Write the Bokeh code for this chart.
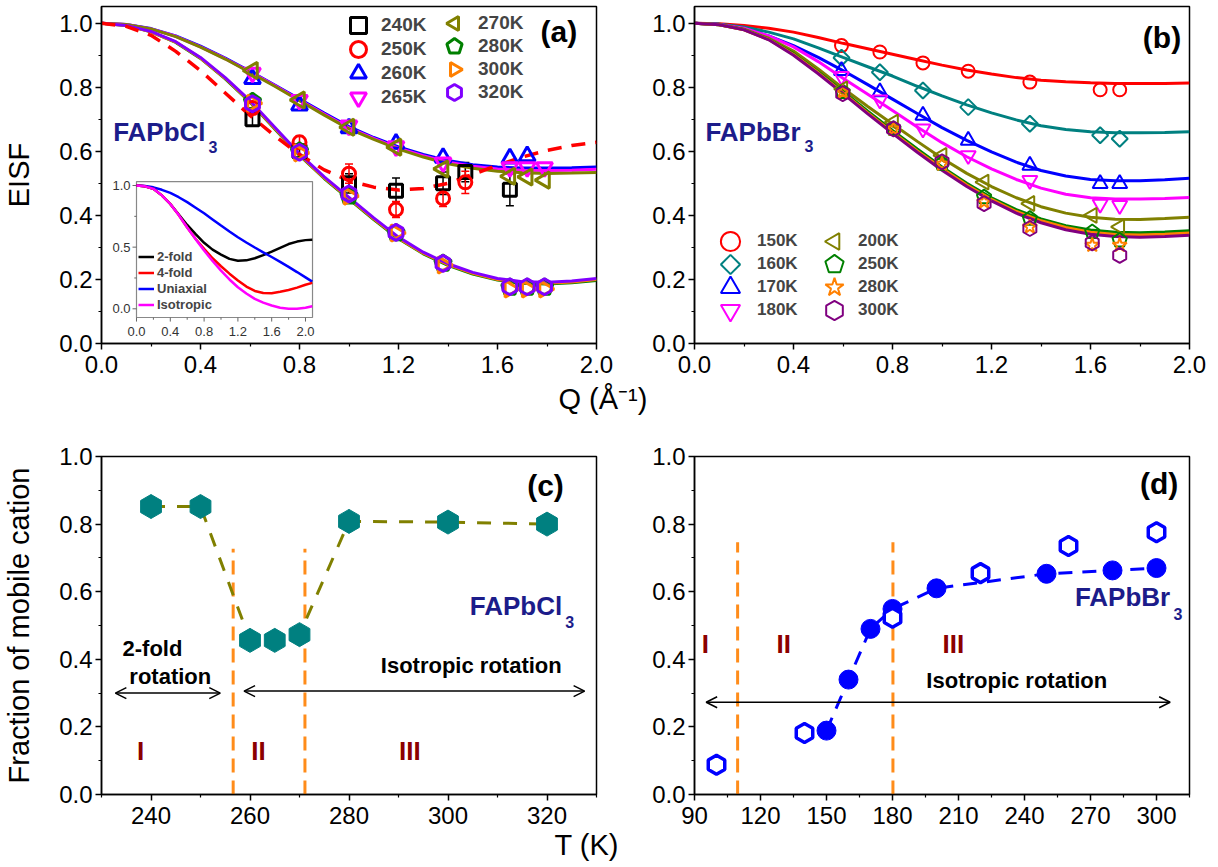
import math
from bokeh.plotting import figure
from bokeh.models import (Range1d, Label, Legend, LegendItem, Arrow, OpenHead, TeeHead, Title,
                          FixedTicker, PrintfTickFormatter, GridBox, Whisker, ColumnDataSource)
from bokeh.core.properties import value
from bokeh.embed import file_html
from bokeh.resources import INLINE

FONT = "Liberation Sans"
NAVY = "#1c1c8a"
MAROON = "#8b0000"
VORANGE = "#ff8c1a"

# ---------------- data: panel (a) FAPbCl3 ----------------
Q_CURVE = [0.0, 0.1, 0.2, 0.3, 0.4, 0.5, 0.6, 0.7, 0.8, 0.9, 1.0,
           1.1, 1.2, 1.3, 1.4, 1.5, 1.6, 1.7, 1.8, 1.9, 2.0]
A_Q = [0.61, 0.80, 1.00, 1.19, 1.38, 1.65, 1.72, 1.79]
A240_Q = [0.61, 0.80, 1.00, 1.19, 1.38, 1.47, 1.65]
A240 = [0.70, 0.60, 0.50, 0.477, 0.50, 0.535, 0.48]
A240_ERR = [0.02, 0.02, 0.03, 0.04, 0.035, 0.03, 0.05]
A250_Q = [0.61, 0.80, 1.00, 1.19, 1.38, 1.47]
A250 = [0.735, 0.628, 0.53, 0.418, 0.453, 0.503]
A250_ERR = [0.02, 0.02, 0.03, 0.025, 0.025, 0.035]
A260_Q = [0.61, 0.80, 1.00, 1.19, 1.38, 1.65, 1.72]
A260 = [0.826, 0.743, 0.672, 0.624, 0.58, 0.578, 0.585]
A265 = [0.845, 0.76, 0.68, 0.615, 0.565, 0.55, 0.55, 0.55]
A270 = [0.852, 0.76, 0.675, 0.613, 0.545, 0.522, 0.52, 0.51]
A280 = [0.755, 0.60, 0.46, 0.345, 0.25, 0.175, 0.175, 0.175]
A300 = [0.75, 0.595, 0.46, 0.345, 0.245, 0.17, 0.17, 0.17]
A320 = [0.748, 0.597, 0.467, 0.347, 0.25, 0.177, 0.177, 0.177]

FIT_A_260 = [1.0, 0.996, 0.983, 0.96, 0.928, 0.891, 0.85, 0.807, 0.763, 0.719, 0.677,
             0.643, 0.614, 0.59, 0.571, 0.558, 0.551, 0.548, 0.548, 0.549, 0.551]
FIT_A_265 = [1.0, 0.996, 0.982, 0.959, 0.926, 0.889, 0.848, 0.805, 0.76, 0.716, 0.673,
             0.64, 0.61, 0.586, 0.566, 0.553, 0.545, 0.541, 0.54, 0.541, 0.544]
FIT_A_270 = [1.0, 0.996, 0.982, 0.958, 0.925, 0.888, 0.846, 0.803, 0.758, 0.713, 0.67,
             0.637, 0.607, 0.582, 0.561, 0.547, 0.538, 0.533, 0.531, 0.532, 0.534]
FIT_A_280 = [1.0, 0.993, 0.973, 0.94, 0.89, 0.826, 0.753, 0.67, 0.587, 0.515, 0.451,
             0.387, 0.327, 0.28, 0.244, 0.217, 0.198, 0.188, 0.186, 0.19, 0.197]
FIT_A_300 = [1.0, 0.993, 0.973, 0.941, 0.891, 0.828, 0.755, 0.672, 0.589, 0.517, 0.453,
             0.389, 0.329, 0.282, 0.246, 0.219, 0.2, 0.19, 0.188, 0.192, 0.2]
FIT_A_320 = [1.0, 0.993, 0.974, 0.942, 0.893, 0.83, 0.758, 0.675, 0.592, 0.52, 0.456,
             0.392, 0.332, 0.285, 0.249, 0.222, 0.203, 0.193, 0.191, 0.195, 0.203]
FIT_A_LOW = [1.0, 0.99, 0.962, 0.912, 0.852, 0.782, 0.712, 0.648, 0.59, 0.542, 0.508,
             0.488, 0.479, 0.484, 0.50, 0.528, 0.556, 0.582, 0.603, 0.618, 0.628]

# inset models
IN_Q = [0.0, 0.1, 0.2, 0.3, 0.4, 0.5, 0.6, 0.7, 0.8, 0.9, 1.0,
        1.1, 1.2, 1.3, 1.4, 1.5, 1.6, 1.7, 1.8, 1.9, 2.0, 2.08]
IN_2FOLD = [1.0, 0.993, 0.973, 0.92, 0.85, 0.765, 0.68, 0.605, 0.535, 0.48, 0.44,
            0.405, 0.39, 0.393, 0.41, 0.435, 0.463, 0.495, 0.525, 0.545, 0.557, 0.56]
IN_4FOLD = [1.0, 0.993, 0.973, 0.92, 0.85, 0.76, 0.66, 0.566, 0.486, 0.41, 0.345,
            0.285, 0.23, 0.18, 0.145, 0.128, 0.127, 0.138, 0.152, 0.172, 0.195, 0.21]
IN_UNI = [1.0, 0.996, 0.985, 0.965, 0.94, 0.905, 0.865, 0.82, 0.775, 0.725, 0.675,
          0.627, 0.58, 0.538, 0.497, 0.458, 0.42, 0.381, 0.34, 0.298, 0.255, 0.22]
IN_ISO = [1.0, 0.993, 0.973, 0.92, 0.85, 0.76, 0.66, 0.565, 0.473, 0.388, 0.31,
          0.238, 0.175, 0.124, 0.081, 0.05, 0.027, 0.008, 0.0, 0.0, 0.008, 0.02]

# ---------------- data: panel (b) FAPbBr3 ----------------
B_Q1 = [0.594, 0.749, 0.923, 1.106, 1.355, 1.639, 1.718]
B_Q2 = [0.599, 0.804, 1.0, 1.17, 1.355, 1.607, 1.718]
B150 = [0.930, 0.910, 0.876, 0.850, 0.816, 0.792, 0.792]
B160 = [0.892, 0.847, 0.790, 0.738, 0.686, 0.650, 0.639]
B170 = [0.852, 0.785, 0.712, 0.634, 0.556, 0.499, 0.499]
B180 = [0.834, 0.761, 0.670, 0.587, 0.509, 0.435, 0.431]
B200 = [0.795, 0.691, 0.587, 0.504, 0.437, 0.400, 0.364]
B250 = [0.785, 0.670, 0.561, 0.457, 0.390, 0.348, 0.322]
B280 = [0.785, 0.670, 0.560, 0.442, 0.364, 0.307, 0.307]
B300 = [0.780, 0.670, 0.567, 0.437, 0.359, 0.314, 0.275]

FIT_B_150 = [1.0, 0.998, 0.993, 0.984, 0.972, 0.955, 0.937, 0.92, 0.903, 0.886, 0.869,
             0.854, 0.841, 0.83, 0.822, 0.817, 0.814, 0.812, 0.812, 0.812, 0.813]
FIT_B_160 = [1.0, 0.997, 0.988, 0.972, 0.951, 0.923, 0.893, 0.864, 0.835, 0.803, 0.773,
             0.745, 0.72, 0.698, 0.68, 0.668, 0.661, 0.658, 0.658, 0.659, 0.661]
FIT_B_170 = [1.0, 0.996, 0.983, 0.96, 0.93, 0.893, 0.852, 0.808, 0.763, 0.718, 0.674,
             0.634, 0.598, 0.566, 0.54, 0.523, 0.512, 0.508, 0.508, 0.511, 0.516]
FIT_B_180 = [1.0, 0.996, 0.984, 0.96, 0.926, 0.88, 0.828, 0.778, 0.727, 0.676, 0.627,
             0.583, 0.545, 0.512, 0.485, 0.466, 0.455, 0.451, 0.451, 0.453, 0.456]
FIT_B_200 = [1.0, 0.995, 0.981, 0.953, 0.913, 0.857, 0.797, 0.74, 0.685, 0.631, 0.578,
             0.531, 0.49, 0.455, 0.427, 0.407, 0.394, 0.388, 0.387, 0.39, 0.394]
FIT_B_250 = [1.0, 0.995, 0.98, 0.95, 0.905, 0.848, 0.787, 0.725, 0.665, 0.607, 0.551,
             0.5, 0.455, 0.418, 0.389, 0.368, 0.354, 0.347, 0.346, 0.348, 0.352]
FIT_B_280 = [1.0, 0.995, 0.979, 0.949, 0.902, 0.845, 0.783, 0.72, 0.66, 0.601, 0.546,
             0.495, 0.45, 0.412, 0.383, 0.362, 0.347, 0.34, 0.339, 0.341, 0.345]
FIT_B_300 = [1.0, 0.995, 0.979, 0.948, 0.9, 0.842, 0.78, 0.717, 0.656, 0.597, 0.541,
             0.49, 0.445, 0.407, 0.377, 0.355, 0.341, 0.334, 0.332, 0.334, 0.338]

# ---------------- data: panel (c) FAPbCl3 fraction ----------------
C_T = [240, 250, 260, 265, 270, 280, 300, 320]
C_F = [0.852, 0.852, 0.456, 0.456, 0.473, 0.808, 0.806, 0.800]
C_TRANS = [256.6, 271.1]
C_TRANS_TOP = 0.727

# ---------------- data: panel (d) FAPbBr3 fraction ----------------
D_T_FILLED = [150, 160, 170, 180, 200, 250, 280, 300]
D_F_FILLED = [0.189, 0.34, 0.49, 0.549, 0.61, 0.653, 0.663, 0.67]
D_T_OPEN = [100, 140, 180, 220, 260, 300]
D_F_OPEN = [0.088, 0.182, 0.523, 0.655, 0.735, 0.776]
D_TRANS = [109.6, 180.2]
D_TRANS_TOP = 0.746

# tick values
Q_TICKS = [0.0, 0.4, 0.8, 1.2, 1.6, 2.0]
Q_MINOR = [0.2, 0.6, 1.0, 1.4, 1.8]
Y_TICKS = [0.0, 0.2, 0.4, 0.6, 0.8, 1.0]
Y_MINOR = [0.1, 0.3, 0.5, 0.7, 0.9]
C_TICKS = [240, 260, 280, 300, 320]
C_MINOR = [230, 250, 270, 290, 310, 330]
D_TICKS = [90, 120, 150, 180, 210, 240, 270, 300]
D_MINOR = [105, 135, 165, 195, 225, 255, 285, 315]
IN_XTICKS = [0.0, 0.4, 0.8, 1.2, 1.6, 2.0]
IN_XMINOR = [0.2, 0.6, 1.0, 1.4, 1.8]
IN_YTICKS = [0.0, 0.5, 1.0]
IN_YMINOR = [0.25, 0.75]
IN_BOX = (0.0, 2.083, -0.0706, 1.032)   # inset frame: left, right, bottom, top

RED, BLUE, MAG, OLIVE, GREEN, ORANGE = "#ff0000", "#0000ff", "#ff00ff", "#808000", "#008000", "#ff8000"
VIOLET, PURPLE, TEAL = "#8000ff", "#800080", "#008080"


def make_fig(xr, yr, fh, ml, mr, mt, mb):
    p = figure(x_range=Range1d(*xr), y_range=Range1d(*yr), frame_width=495, frame_height=fh,
               min_border_left=ml, min_border_right=mr, min_border_top=mt, min_border_bottom=mb,
               output_backend="svg", toolbar_location=None, tools="")
    p.grid.visible = False
    p.outline_line_color = "black"
    p.outline_line_width = 1.5
    p.background_fill_color = "white"
    p.border_fill_color = "white"
    p.axis.axis_line_width = 1.5
    p.axis.axis_line_color = "black"
    p.axis.major_tick_line_width = 1.5
    p.axis.major_tick_out = 6
    p.axis.major_tick_in = 0
    p.axis.minor_tick_out = 3
    p.axis.minor_tick_in = 0
    p.axis.minor_tick_line_width = 1.2
    p.axis.major_label_text_font = FONT
    p.axis.major_label_text_font_size = "24px"
    p.axis.major_label_text_color = "black"
    p.yaxis.major_label_standoff = 3
    p.xaxis.major_label_standoff = 6
    p.axis.axis_label_text_font = FONT
    p.axis.axis_label_text_font_size = "29px"
    p.axis.axis_label_text_font_style = "normal"
    p.axis.axis_label_text_color = "black"
    return p


def bottom_title(p, s, offset, standoff):
    p.add_layout(Title(text=s, align="left", offset=offset, text_font=FONT,
                       text_font_size="29px", text_font_style="normal", text_color="black",
                       standoff=standoff), "below")


def txt(p, x, y, s, size, color="black", bold=False, align="left", baseline="middle"):
    p.add_layout(Label(x=x, y=y, text=s, text_font=FONT, text_font_size=f"{size}px",
                       text_color=color, text_font_style="bold" if bold else "normal",
                       text_align=align, text_baseline=baseline))


def sc(p, x, y, kind, color, size, lw, fill=None):
    return p.scatter(x=x, y=y, marker=kind, size=size, fill_color=fill,
                     line_color=color, line_width=lw)


def ng(p, x, y, n, r, ang, color, lw, fill=None):
    return p.ngon(x=x, y=y, radius=r, radius_units="screen", n=n, angle=ang,
                  fill_color=fill, line_color=color, line_width=lw)


def legend_rows(p, items, x, vys, g, standoff, fsize):
    for (lab, r), vy in zip(items, vys):
        p.add_layout(Legend(items=[LegendItem(label=lab, renderers=[r])], location=(x, vy),
                            glyph_width=g, glyph_height=g, label_height=g, spacing=0,
                            label_standoff=standoff, padding=0, margin=0,
                            border_line_alpha=0, background_fill_alpha=0,
                            label_text_font=FONT, label_text_font_style="bold",
                            label_text_font_size=f"{fsize}px"))


UP, LEFT, RIGHT = 0.0, math.pi / 2, -math.pi / 2   # ngon: angle 0 puts a vertex on top

# ============ panel (a) ============
pa = make_fig((0, 2.0), (0, 1.052), 337, 100, 53, 6, 81)
pa.xaxis.ticker = FixedTicker(ticks=Q_TICKS, minor_ticks=Q_MINOR)
pa.yaxis.ticker = FixedTicker(ticks=Y_TICKS, minor_ticks=Y_MINOR)
pa.xaxis.formatter = PrintfTickFormatter(format="%.1f")
pa.yaxis.formatter = PrintfTickFormatter(format="%.1f")
pa.yaxis.axis_label = "EISF"
pa.yaxis.axis_label_standoff = 21
bottom_title(pa, "Q (Å⁻¹)", 457, 10)

for fit, col in [(FIT_A_260, BLUE), (FIT_A_265, MAG), (FIT_A_270, OLIVE),
                 (FIT_A_280, GREEN), (FIT_A_300, ORANGE), (FIT_A_320, VIOLET)]:
    pa.line(Q_CURVE, fit, line_color=col, line_width=3)
pa.line(Q_CURVE, FIT_A_LOW, line_color=RED, line_width=3.5, line_dash="14 10")

for xs, ys, es, col in [(A240_Q, A240, A240_ERR, "black"), (A250_Q, A250, A250_ERR, RED)]:
    src = ColumnDataSource(dict(x=xs, lower=[v - e for v, e in zip(ys, es)],
                                upper=[v + e for v, e in zip(ys, es)]))
    pa.add_layout(Whisker(source=src, base="x", lower="lower", upper="upper", line_color=col,
                          line_width=1.5,
                          upper_head=TeeHead(size=8, line_color=col, line_width=1.5),
                          lower_head=TeeHead(size=8, line_color=col, line_width=1.5)))

ra240 = sc(pa, A240_Q, A240, "square", "black", 13, 3)
ra250 = sc(pa, A250_Q, A250, "circle", RED, 13, 3)
ra260 = sc(pa, A260_Q, A260, "triangle", BLUE, 16, 3)
ra265 = sc(pa, A_Q, A265, "inverted_triangle", MAG, 16, 3)
ra270 = ng(pa, A_Q, A270, 3, 9.5, LEFT, OLIVE, 3)
ra280 = ng(pa, A_Q, A280, 5, 8.5, UP, GREEN, 3)
ra300 = ng(pa, A_Q, A300, 3, 9.5, RIGHT, ORANGE, 3)
ra320 = ng(pa, A_Q, A320, 6, 8.0, UP, VIOLET, 3)

legend_rows(pa, [("240K", ra240), ("250K", ra250), ("260K", ra260), ("265K", ra265)],
            237, [298, 274, 250, 226], 40, 3, 19)
legend_rows(pa, [("270K", ra270), ("280K", ra280), ("300K", ra300), ("320K", ra320)],
            333, [300, 277, 254, 231], 40, 4, 19)

txt(pa, 1.848, 0.975, "(a)", 30, bold=True, align="center")
txt(pa, 0.047, 0.66, "FAPbCl", 26, color=NAVY, bold=True)
txt(pa, 0.432, 0.613, "3", 16, color=NAVY, bold=True)

# ---- inset (drawn in panel (a) on its own ranges) ----
pa.extra_x_ranges = {"ix": Range1d(-0.4142, 5.4438)}
pa.extra_y_ranges = {"iy": Range1d(-0.2814, 2.4518)}
IR = dict(x_range_name="ix", y_range_name="iy")
bx0, bx1, by0, by1 = IN_BOX
pa.quad(left=[bx0], right=[bx1], bottom=[by0], top=[by1], fill_color="white",
        line_color="#888888", line_width=1.2, **IR)
pa.segment(x0=IN_XTICKS, x1=IN_XTICKS, y0=[by0] * len(IN_XTICKS),
           y1=[by0 - 0.033] * len(IN_XTICKS), line_color="#666666", line_width=1, **IR)
pa.segment(x0=IN_XMINOR, x1=IN_XMINOR, y0=[by0] * len(IN_XMINOR),
           y1=[by0 - 0.018] * len(IN_XMINOR), line_color="#666666", line_width=1, **IR)
pa.segment(x0=[bx0] * len(IN_YTICKS), x1=[bx0 - 0.047] * len(IN_YTICKS), y0=IN_YTICKS,
           y1=IN_YTICKS, line_color="#666666", line_width=1, **IR)
pa.segment(x0=[bx0] * len(IN_YMINOR), x1=[bx0 - 0.026] * len(IN_YMINOR), y0=IN_YMINOR,
           y1=IN_YMINOR, line_color="#666666", line_width=1, **IR)
pa.text(x=IN_XTICKS, y=[by0 - 0.075] * len(IN_XTICKS), text=["%.1f" % t for t in IN_XTICKS],
        text_font=value(FONT), text_font_size="13px", text_color="#333333",
        text_align="center", text_baseline="top", **IR)
pa.text(x=[bx0 - 0.07] * len(IN_YTICKS), y=IN_YTICKS, text=["%.1f" % t for t in IN_YTICKS],
        text_font=value(FONT), text_font_size="13px", text_color="#333333",
        text_align="right", text_baseline="middle", **IR)
ri_b = pa.line(IN_Q, IN_2FOLD, line_color="black", line_width=2.5, **IR)
ri_u = pa.line(IN_Q, IN_UNI, line_color=BLUE, line_width=2.5, **IR)
ri_r = pa.line(IN_Q, IN_4FOLD, line_color=RED, line_width=2.5, **IR)
ri_m = pa.line(IN_Q, IN_ISO, line_color=MAG, line_width=2.5, **IR)
pa.add_layout(Legend(items=[LegendItem(label="2-fold", renderers=[ri_b]),
                            LegendItem(label="4-fold", renderers=[ri_r]),
                            LegendItem(label="Uniaxial", renderers=[ri_u]),
                            LegendItem(label="Isotropic", renderers=[ri_m])],
                     location=(37, 31), glyph_width=16, glyph_height=15, label_height=15,
                     spacing=1, label_standoff=3, padding=0, margin=0,
                     border_line_alpha=0, background_fill_alpha=0, label_text_font=FONT,
                     label_text_font_style="bold", label_text_font_size="13px"))

# ============ panel (b) ============
pb = make_fig((0, 2.0), (0, 1.052), 337, 44, 29, 6, 81)
pb.xaxis.ticker = FixedTicker(ticks=Q_TICKS, minor_ticks=Q_MINOR)
pb.yaxis.ticker = FixedTicker(ticks=Y_TICKS, minor_ticks=Y_MINOR)
pb.xaxis.formatter = PrintfTickFormatter(format="%.1f")
pb.yaxis.formatter = PrintfTickFormatter(format="%.1f")
for fit, col in [(FIT_B_150, RED), (FIT_B_160, TEAL), (FIT_B_170, BLUE), (FIT_B_180, MAG),
                 (FIT_B_200, OLIVE), (FIT_B_250, GREEN), (FIT_B_280, ORANGE), (FIT_B_300, PURPLE)]:
    pb.line(Q_CURVE, fit, line_color=col, line_width=3)
rb150 = sc(pb, B_Q1, B150, "circle", RED, 13, 2)
rb160 = ng(pb, B_Q1, B160, 4, 8.0, UP, TEAL, 2)
rb170 = sc(pb, B_Q1, B170, "triangle", BLUE, 15, 2)
rb180 = sc(pb, B_Q1, B180, "inverted_triangle", MAG, 15, 2)
rb200 = ng(pb, B_Q2, B200, 3, 8.7, LEFT, OLIVE, 2)
rb250 = ng(pb, B_Q2, B250, 5, 7.5, UP, GREEN, 2)
rb280 = sc(pb, B_Q2, B280, "star", ORANGE, 15, 2)
rb300 = ng(pb, B_Q2, B300, 6, 7.5, UP, PURPLE, 2)
legend_rows(pb, [("150K", rb150), ("160K", rb160), ("170K", rb170), ("180K", rb180)],
            12, [78, 55, 32, 9], 48, 3, 17)
legend_rows(pb, [("200K", rb200), ("250K", rb250), ("280K", rb280), ("300K", rb300)],
            116, [78, 55, 32, 9], 48, 0, 17)
txt(pb, 1.889, 0.955, "(b)", 30, bold=True, align="center")
txt(pb, 0.044, 0.66, "FAPbBr", 26, color=NAVY, bold=True)
txt(pb, 0.444, 0.615, "3", 16, color=NAVY, bold=True)

# ============ panel (c) ============
pc = make_fig((230, 330), (0, 1.0), 338, 100, 53, 32, 71)
pc.xaxis.ticker = FixedTicker(ticks=C_TICKS, minor_ticks=C_MINOR)
pc.yaxis.ticker = FixedTicker(ticks=Y_TICKS, minor_ticks=Y_MINOR)
pc.xaxis.formatter = PrintfTickFormatter(format="%d")
pc.yaxis.formatter = PrintfTickFormatter(format="%.1f")
pc.yaxis.axis_label = "Fraction of mobile cation"
pc.yaxis.axis_label_standoff = 21
bottom_title(pc, "T (K)", 453, 0)
pc.segment(x0=C_TRANS, x1=C_TRANS, y0=[0, 0], y1=[C_TRANS_TOP] * 2, line_color=VORANGE,
           line_width=3, line_dash="14 8")
pc.line(C_T, C_F, line_color=OLIVE, line_width=3, line_dash="14 12")
ng(pc, C_T, C_F, 6, 12, UP, TEAL, 1, fill=TEAL)
for x0, x1, y in [(232.8, 254.0, 0.30), (258.8, 327.6, 0.306)]:
    pc.add_layout(Arrow(start=OpenHead(size=11, line_width=1.5), end=OpenHead(size=11, line_width=1.5),
                        x_start=x0, y_start=y, x_end=x1, y_end=y, line_width=1.5))
txt(pc, 240.3, 0.432, "2-fold", 22, bold=True, align="center")
txt(pc, 243.9, 0.349, "rotation", 22, bold=True, align="center")
txt(pc, 304.7, 0.382, "Isotropic rotation", 22, bold=True, align="center")
txt(pc, 304.4, 0.559, "FAPbCl", 26, color=NAVY, bold=True)
txt(pc, 323.7, 0.51, "3", 16, color=NAVY, bold=True)
for xn, s in [(237.9, "I"), (261.7, "II"), (292.3, "III")]:
    txt(pc, xn, 0.13, s, 26, color=MAROON, bold=True, align="center")
txt(pc, 319.7, 0.914, "(c)", 30, bold=True, align="center")

# ============ panel (d) ============
pd_ = make_fig((90, 315), (0, 1.0), 338, 44, 29, 32, 71)
pd_.xaxis.ticker = FixedTicker(ticks=D_TICKS, minor_ticks=D_MINOR)
pd_.yaxis.ticker = FixedTicker(ticks=Y_TICKS, minor_ticks=Y_MINOR)
pd_.xaxis.formatter = PrintfTickFormatter(format="%d")
pd_.yaxis.formatter = PrintfTickFormatter(format="%.1f")
pd_.segment(x0=D_TRANS, x1=D_TRANS, y0=[0, 0], y1=[D_TRANS_TOP] * 2, line_color=VORANGE,
            line_width=3, line_dash="14 8")
pd_.line(D_T_FILLED, D_F_FILLED, line_color=BLUE, line_width=3, line_dash="14 10")
pd_.add_layout(Arrow(start=OpenHead(size=11, line_width=1.5), end=OpenHead(size=11, line_width=1.5),
                     x_start=95.3, y_start=0.273, x_end=306.2, y_end=0.273, line_width=1.5))
sc(pd_, D_T_FILLED, D_F_FILLED, "circle", BLUE, 19, 1, fill=BLUE)
ng(pd_, D_T_OPEN, D_F_OPEN, 6, 9.5, UP, BLUE, 3.5, fill="white")
txt(pd_, 236.5, 0.337, "Isotropic rotation", 22, bold=True, align="center")
txt(pd_, 262.9, 0.584, "FAPbBr", 26, color=NAVY, bold=True)
txt(pd_, 307.7, 0.535, "3", 16, color=NAVY, bold=True)
for xn, s in [(94.9, "I"), (130.6, "II"), (207.7, "III")]:
    txt(pd_, xn, 0.446, s, 26, color=MAROON, bold=True, align="center")
txt(pd_, 301.2, 0.92, "(d)", 30, bold=True, align="center")

grid = GridBox(children=[(pa, 0, 0), (pb, 0, 1), (pc, 1, 0), (pd_, 1, 1)])
open("out.html", "w").write(file_html(grid, INLINE))
